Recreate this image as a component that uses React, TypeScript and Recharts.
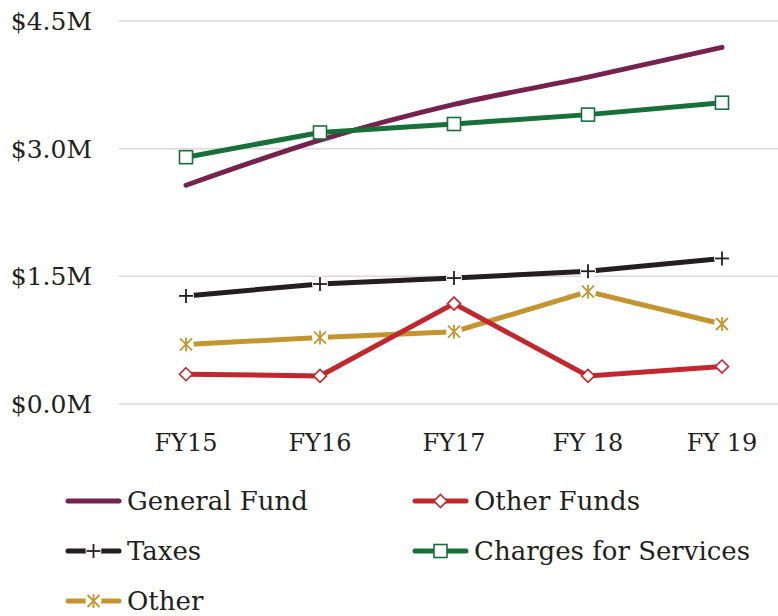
import React from 'react';
import { LineChart, Line, XAxis, YAxis, CartesianGrid, Legend } from 'recharts';

const categories = ['FY15', 'FY16', 'FY17', 'FY 18', 'FY 19'];
const generalFund = [2.57, 3.1, 3.52, 3.84, 4.19];
const otherFunds = [0.35, 0.33, 1.18, 0.33, 0.44];
const taxes = [1.27, 1.41, 1.48, 1.56, 1.71];
const charges = [2.9, 3.19, 3.29, 3.4, 3.54];
const other = [0.7, 0.78, 0.85, 1.32, 0.94];
const yTicks = [0, 1.5, 3.0, 4.5];

const COLORS = {
  general: '#76224E',
  otherFunds: '#C1272D',
  taxes: '#231F20',
  charges: '#17703A',
  other: '#C4952F',
};

const data = categories.map((c, i) => ({
  cat: c,
  general: generalFund[i] * 1e6,
  otherFunds: otherFunds[i] * 1e6,
  taxes: taxes[i] * 1e6,
  charges: charges[i] * 1e6,
  other: other[i] * 1e6,
}));

const FONT = '"DejaVu Serif", serif';
const TEXT = '#231F20';

const drawMarker = (kind: string, cx: number, cy: number, color: string, gapBg: boolean) => {
  if (kind === 'square') {
    return <rect x={cx - 6.5} y={cy - 6.5} width={13} height={13} fill="#fff" stroke={color} strokeWidth={1.6} />;
  }
  if (kind === 'diamond') {
    return <path d={`M${cx},${cy - 6.5}L${cx + 6.5},${cy}L${cx},${cy + 6.5}L${cx - 6.5},${cy}Z`} fill="#fff" stroke={color} strokeWidth={1.6} />;
  }
  if (kind === 'plus') {
    return (
      <g>
        {gapBg && <circle cx={cx} cy={cy} r={8} fill="#fff" />}
        <line x1={cx - 7} y1={cy} x2={cx + 7} y2={cy} stroke={color} strokeWidth={1.8} />
        <line x1={cx} y1={cy - 7} x2={cx} y2={cy + 7} stroke={color} strokeWidth={1.8} />
      </g>
    );
  }
  if (kind === 'star') {
    return (
      <g>
        {gapBg && <circle cx={cx} cy={cy} r={8} fill="#fff" />}
        <line x1={cx - 6} y1={cy - 6} x2={cx + 6} y2={cy + 6} stroke={color} strokeWidth={1.8} />
        <line x1={cx - 6} y1={cy + 6} x2={cx + 6} y2={cy - 6} stroke={color} strokeWidth={1.8} />
        <line x1={cx} y1={cy - 7} x2={cx} y2={cy + 7} stroke={color} strokeWidth={1.8} />
      </g>
    );
  }
  return null;
};

const makeDot = (kind: string, color: string) => (props: any) => {
  const { cx, cy, index } = props;
  if (cx == null || cy == null) return <g key={`d-${kind}-${index}`} />;
  return <g key={`d-${kind}-${index}`}>{drawMarker(kind, cx, cy, color, true)}</g>;
};

const legendItems = [
  { name: 'General Fund', color: COLORS.general, kind: 'none', col: 0, row: 0 },
  { name: 'Other Funds', color: COLORS.otherFunds, kind: 'diamond', col: 1, row: 0 },
  { name: 'Taxes', color: COLORS.taxes, kind: 'plus', col: 0, row: 1 },
  { name: 'Charges for Services', color: COLORS.charges, kind: 'square', col: 1, row: 1 },
  { name: 'Other', color: COLORS.other, kind: 'star', col: 0, row: 2 },
];

const LegendContent = () => (
  <div style={{ position: 'relative', width: 778, height: 140 }}>
    {legendItems.map((it) => (
      <div
        key={it.name}
        style={{
          position: 'absolute',
          left: it.col === 0 ? 65 : 412,
          top: it.row * 50,
          height: 50,
          display: 'flex',
          alignItems: 'center',
        }}
      >
        <svg width={57} height={20} style={{ display: 'block' }}>
          <line x1={3} y1={10} x2={54} y2={10} stroke={it.color} strokeWidth={5} strokeLinecap="round" />
          {drawMarker(it.kind, 28.5, 10, it.color, true)}
        </svg>
        <span style={{ marginLeft: 5, fontFamily: FONT, fontSize: 26, color: TEXT, whiteSpace: 'nowrap' }}>{it.name}</span>
      </div>
    ))}
  </div>
);

export default function App() {
  return (
    <div style={{ position: 'absolute', left: 0, top: 0, width: 778, height: 616, overflow: 'hidden', background: '#fff' }}>
      <LineChart width={789} height={616} data={data} margin={{ top: 21, right: 0, bottom: 0, left: 0 }}>
        <CartesianGrid vertical={false} stroke="#D9D9D9" strokeWidth={1.5} />
        <XAxis
          dataKey="cat"
          axisLine={false}
          tickLine={false}
          tickSize={0}
          tickMargin={30}
          height={72}
          padding={{ left: 67, right: 67 }}
          interval={0}
          tick={{ fontFamily: FONT, fontSize: 24, fill: TEXT }}
        />
        <YAxis
          domain={[0, 4.5e6]}
          ticks={yTicks.map((t) => t * 1e6)}
          tickFormatter={(v: number) => `$${(v / 1e6).toFixed(1)}M`}
          axisLine={false}
          tickLine={false}
          tickSize={0}
          tickMargin={27}
          width={119}
          tick={{ fontFamily: FONT, fontSize: 25, fill: TEXT }}
        />
        <Legend
          verticalAlign="bottom"
          content={() => <LegendContent />}
          wrapperStyle={{ position: 'absolute', left: 0, bottom: 0, width: 778, height: 140 }}
        />
        <Line type="monotone" dataKey="general" name="General Fund" stroke={COLORS.general} strokeWidth={5} strokeLinecap="round" dot={false} isAnimationActive={false} />
        <Line type="linear" dataKey="charges" name="Charges for Services" stroke={COLORS.charges} strokeWidth={5} dot={makeDot('square', COLORS.charges)} isAnimationActive={false} />
        <Line type="linear" dataKey="taxes" name="Taxes" stroke={COLORS.taxes} strokeWidth={5} dot={makeDot('plus', COLORS.taxes)} isAnimationActive={false} />
        <Line type="linear" dataKey="other" name="Other" stroke={COLORS.other} strokeWidth={5} dot={makeDot('star', COLORS.other)} isAnimationActive={false} />
        <Line type="linear" dataKey="otherFunds" name="Other Funds" stroke={COLORS.otherFunds} strokeWidth={5} dot={makeDot('diamond', COLORS.otherFunds)} isAnimationActive={false} />
      </LineChart>
    </div>
  );
}
